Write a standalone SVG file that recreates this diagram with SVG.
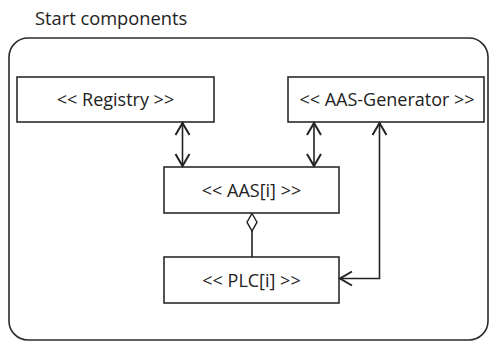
<svg xmlns="http://www.w3.org/2000/svg" width="490" height="342" viewBox="0 0 490 342">
  <style>
    .frame { fill: none; stroke: #2b2b2b; stroke-width: 1.6; }
    .box { fill: #ffffff; stroke: #2b2b2b; stroke-width: 1.6; }
    .label { font-family: "Open Sans", "Liberation Sans", sans-serif; font-size: 18px; fill: #222222; text-anchor: middle; }
    .title { font-family: "Open Sans", "Liberation Sans", sans-serif; font-size: 18.3px; fill: #222222; }
    .link { fill: none; stroke: #222222; stroke-width: 1.6; }
  </style>
  <defs>
    <marker id="open-arrow" viewBox="-14 -9 16 18" refX="0" refY="0" markerWidth="16" markerHeight="18" markerUnits="userSpaceOnUse" orient="auto-start-reverse">
      <path d="M-12,-7 L0,0 L-12,7" fill="none" stroke="#222222" stroke-width="2"/>
    </marker>
  </defs>

  <!-- package frame -->
  <text class="title" x="35" y="25">Start components</text>
  <rect class="frame" x="9" y="38" width="479" height="302" rx="19" ry="19"/>

  <!-- nodes -->
  <g id="registry">
    <rect class="box" x="17" y="77" width="197" height="45"/>
    <text class="label" x="115.5" y="105.5">&lt;&lt; Registry &gt;&gt;</text>
  </g>
  <g id="aas-generator">
    <rect class="box" x="288" y="77" width="196" height="45"/>
    <text class="label" x="387" y="105.5">&lt;&lt; AAS-Generator &gt;&gt;</text>
  </g>
  <g id="aas">
    <rect class="box" x="164" y="167" width="175" height="46"/>
    <text class="label" x="251.5" y="196.5">&lt;&lt; AAS[i] &gt;&gt;</text>
  </g>
  <g id="plc">
    <rect class="box" x="164" y="257" width="175" height="46"/>
    <text class="label" x="251.5" y="286.5">&lt;&lt; PLC[i] &gt;&gt;</text>
  </g>

  <!-- connectors -->
  <g id="connectors">
    <line class="link" x1="182.5" y1="123" x2="182.5" y2="166" marker-start="url(#open-arrow)" marker-end="url(#open-arrow)"/>
    <line class="link" x1="314" y1="123" x2="314" y2="166" marker-start="url(#open-arrow)" marker-end="url(#open-arrow)"/>
    <polyline class="link" points="379.5,123 379.5,278.5 340,278.5" marker-start="url(#open-arrow)" marker-end="url(#open-arrow)"/>
    <!-- aggregation: AAS[i] aggregates PLC[i] -->
    <line class="link" x1="252" y1="231" x2="252" y2="257"/>
    <path d="M252,213.5 L257,222.2 L252,231 L247,222.2 Z" fill="#ffffff" stroke="#222222" stroke-width="1.4"/>
  </g>
</svg>
